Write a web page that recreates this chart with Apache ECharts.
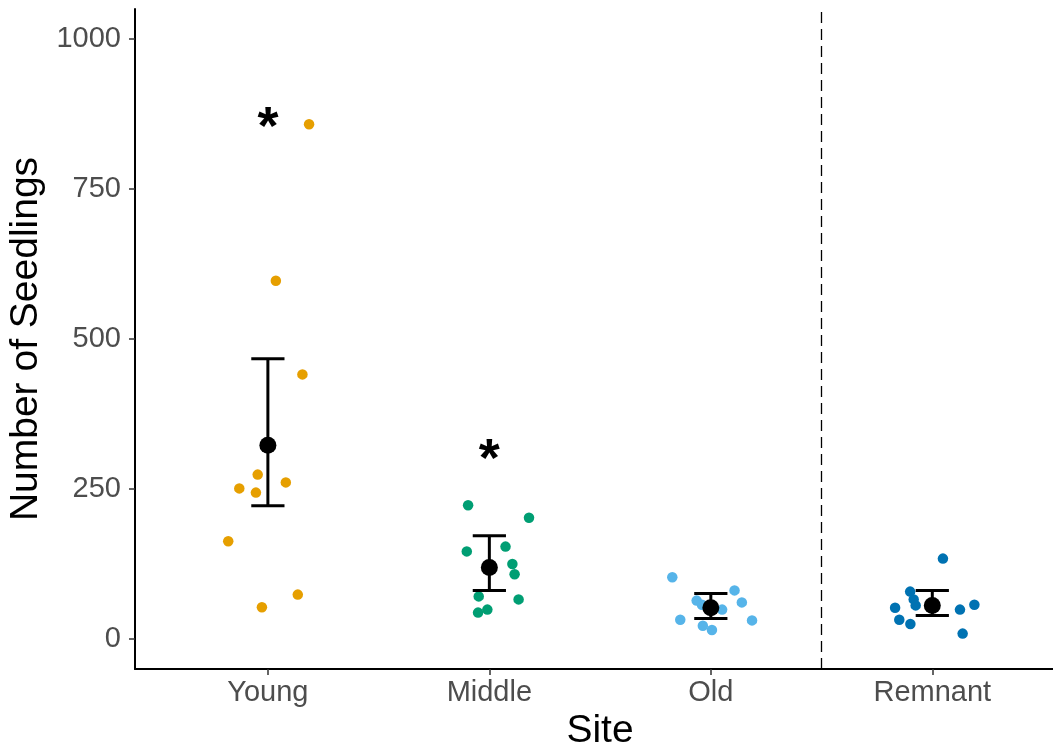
<!DOCTYPE html>
<html>
<head>
<meta charset="utf-8">
<title>Seedlings by site</title>
<script src="https://cdn.jsdelivr.net/npm/echarts@6/dist/echarts.min.js"></script>
<style>
  html, body { margin: 0; padding: 0; background: #fff; }
  #chart { width: 1053px; height: 751px; }
</style>
</head>
<body>
<div id="chart"></div>
<script>
// Site categories, placed at x = 1..4
const sites = ['Young', 'Middle', 'Old', 'Remnant'];
const siteColors = ['#E69F00', '#009E73', '#56B4E9', '#0072B2'];

// Seedling counts per plot, with the horizontal jitter each point was drawn with
const youngCounts   = [858, 597, 441, 274, 251, 244, 261, 163, 74, 53];
const youngJitter   = [0.186, 0.036, 0.156, -0.046, -0.129, -0.054, 0.081, -0.179, 0.135, -0.027];
const middleCounts  = [223, 202, 146, 154, 125, 108, 71, 66, 49, 44];
const middleJitter  = [-0.096, 0.179, -0.102, 0.073, 0.104, 0.114, -0.048, 0.132, -0.009, -0.051];
const oldCounts     = [103, 81, 64, 61, 49, 32, 31, 22, 15, 57];
const oldJitter     = [-0.174, 0.107, -0.064, 0.14, 0.051, -0.138, 0.186, -0.036, 0.005, -0.04];
const remnantCounts = [134, 79, 66, 56, 52, 57, 49, 32, 25, 9];
const remnantJitter = [0.048, -0.10, -0.084, -0.075, -0.168, 0.19, 0.125, -0.149, -0.099, 0.137];

// Site means with their interval limits
const meanCounts = [323, 119, 52, 56];
const lowerCounts = [222, 81, 34, 39];
const upperCounts = [467, 172, 76, 81];

// Significance markers
const starSites = [1, 2];
const starY = [868, 315];

// Axis ticks
const yTicks = [0, 250, 500, 750, 1000];
const xTicks = [1, 2, 3, 4];

const counts = [youngCounts, middleCounts, oldCounts, remnantCounts];
const jitters = [youngJitter, middleJitter, oldJitter, remnantJitter];

const FONT = 'Liberation Sans, Arial, sans-serif';
const CAP_HALF = 0.075;
const STAR_SIZE = 54;

const pointSeries = sites.map((name, i) => ({
  name: name,
  type: 'scatter',
  symbolSize: 10.5,
  itemStyle: { color: siteColors[i], opacity: 1 },
  z: 2,
  silent: true,
  data: counts[i].map((v, k) => [i + 1 + jitters[i][k], v])
}));

// dashed separator between the restored sites and the remnant
pointSeries[0].markLine = {
  silent: true,
  symbol: 'none',
  label: { show: false },
  lineStyle: { color: '#000', width: 1.3, type: [11, 6] },
  data: [{ xAxis: 3.5 }]
};

const chart = echarts.init(document.getElementById('chart'), null, { renderer: 'canvas' });

chart.setOption({
  animation: false,
  backgroundColor: '#fff',
  grid: { left: 135, right: 0, top: 9, bottom: 82, outerBoundsMode: 'none', containLabel: false },
  xAxis: {
    type: 'value',
    min: 0.4,
    max: 4.545,
    name: 'Site',
    nameLocation: 'middle',
    nameGap: 40,
    nameTextStyle: { fontFamily: FONT, fontSize: 39, color: '#000', padding: [0, 0, 0, 12] },
    splitLine: { show: false },
    axisLine: { show: true, onZero: false, lineStyle: { color: '#000', width: 2 } },
    axisTick: { show: true, customValues: xTicks, length: 6, lineStyle: { color: '#333', width: 1.5 } },
    axisLabel: {
      customValues: xTicks,
      margin: 9,
      fontFamily: FONT,
      fontSize: 29,
      color: '#4D4D4D',
      formatter: v => sites[Math.round(v) - 1]
    }
  },
  yAxis: {
    type: 'value',
    min: -50,
    max: 1050,
    name: 'Number of Seedlings',
    nameLocation: 'middle',
    nameGap: 79,
    nameTextStyle: { fontFamily: FONT, fontSize: 39, color: '#000' },
    splitLine: { show: false },
    axisLine: { show: true, onZero: false, lineStyle: { color: '#000', width: 2 } },
    axisTick: { show: true, customValues: yTicks, length: 6, lineStyle: { color: '#333', width: 1.5 } },
    axisLabel: {
      customValues: yTicks,
      margin: 14,
      fontFamily: FONT,
      fontSize: 29,
      color: '#4D4D4D',
      formatter: v => String(v)
    }
  },
  series: pointSeries.concat([
    {
      name: 'interval',
      type: 'custom',
      z: 3,
      silent: true,
      data: sites.map((s, i) => [i + 1, lowerCounts[i], upperCounts[i]]),
      renderItem: function (params, api) {
        const x = api.value(0);
        const lo = api.value(1);
        const hi = api.value(2);
        const top = api.coord([x, hi]);
        const bot = api.coord([x, lo]);
        const left = api.coord([x - CAP_HALF, hi])[0];
        const right = api.coord([x + CAP_HALF, hi])[0];
        const style = { stroke: '#000', lineWidth: 3, fill: null };
        return {
          type: 'group',
          children: [
            { type: 'line', shape: { x1: top[0], y1: top[1], x2: bot[0], y2: bot[1] }, style: style },
            { type: 'line', shape: { x1: left, y1: top[1], x2: right, y2: top[1] }, style: style },
            { type: 'line', shape: { x1: left, y1: bot[1], x2: right, y2: bot[1] }, style: style }
          ]
        };
      }
    },
    {
      name: 'mean',
      type: 'scatter',
      z: 4,
      silent: true,
      symbolSize: 17,
      itemStyle: { color: '#000', opacity: 1 },
      data: meanCounts.map((v, i) => [i + 1, v])
    },
    {
      name: 'stars',
      type: 'custom',
      z: 5,
      silent: true,
      data: starSites.map((s, i) => [s, starY[i]]),
      renderItem: function (params, api) {
        const p = api.coord([api.value(0), api.value(1)]);
        return {
          type: 'text',
          x: p[0],
          y: p[1] + STAR_SIZE * 0.21,
          style: {
            text: '*',
            fontFamily: FONT,
            fontSize: STAR_SIZE,
            fontWeight: 'bold',
            fill: '#000',
            align: 'center',
            verticalAlign: 'middle'
          }
        };
      }
    }
  ])
});
</script>
</body>
</html>
